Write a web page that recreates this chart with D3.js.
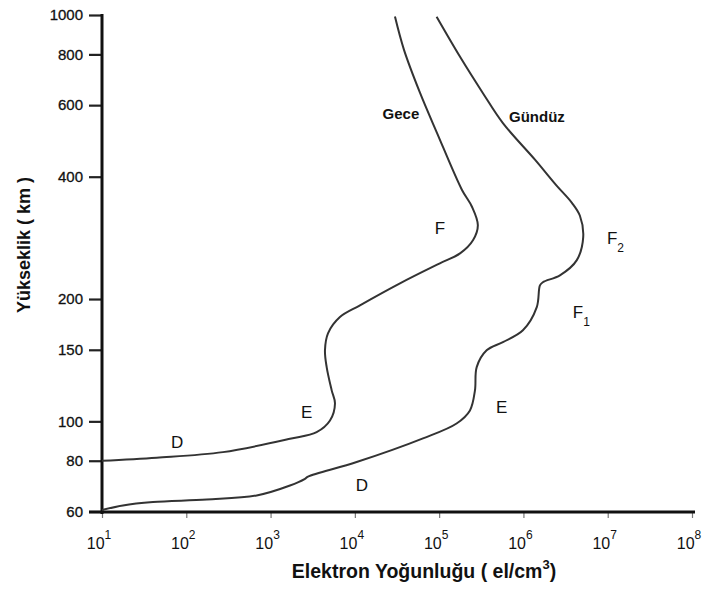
<!DOCTYPE html>
<html>
<head>
<meta charset="utf-8">
<script src="https://cdn.jsdelivr.net/npm/d3@7/dist/d3.min.js"></script>
<style>
  html, body { margin: 0; padding: 0; background: #fff; }
  svg { display: block; font-family: "Liberation Sans", Arial, sans-serif; }
</style>
</head>
<body>
<svg id="chart" width="707" height="590"></svg>
<script>
// Electron density profile of the ionosphere, night vs. day
const altTicks = [60, 80, 100, 150, 200, 400, 600, 800, 1000];
const densityExponents = [1, 2, 3, 4, 5, 6, 7, 8];

// Night (Gece) profile: electron density (el/cm^3) and altitude (km)
const nightDensity = [1.0e1, 4.46e1, 2.72e2, 1.70e3, 3.52e3, 5.07e3, 5.81e3, 5.31e3, 4.63e3, 4.42e3,
  4.80e3, 6.65e3, 1.15e4, 3.43e4, 1.02e5, 1.77e5, 2.52e5, 2.88e5, 2.45e5, 1.86e5,
  9.42e4, 5.92e4, 3.82e4, 2.99e4];
const nightAlt = [80, 81.4, 84, 90.6, 94.1, 100.5, 110.7, 119.2, 136, 149.6,
  164.7, 180.6, 193, 218.6, 244.9, 259, 279, 303.8, 337.4, 371.6,
  513, 644, 822, 991];

// Day (Gündüz) profile
const dayDensity = [1.0e1, 1.77e1, 4.03e1, 1.75e2, 6.84e2, 1.70e3, 2.56e3, 2.78e3, 1.05e4, 6.43e4,
  1.61e5, 2.32e5, 2.66e5, 2.79e5, 3.66e5, 5.71e5, 9.86e5, 1.44e6, 1.57e6, 1.70e6,
  2.71e6, 4.28e6, 5.12e6, 4.68e6, 3.76e6, 2.43e6, 1.37e6, 5.71e5, 3.31e5, 1.77e5, 9.33e4];
const dayAlt = [60.5, 62.1, 63.3, 64.2, 65.7, 69.5, 72.2, 73.1, 79.4, 90.8,
  98.8, 106.4, 119.2, 136, 149.6, 156.7, 167.5, 191, 216, 220,
  228.8, 249, 284, 320.6, 345, 382, 440.5, 541.8, 642, 789, 990];

// Layer annotations: text, subscript, density, altitude (baseline)
const layerLabels = [
  { t: "D", sub: "", n: 7.8e1, a: 86 },
  { t: "E", sub: "", n: 2.68e3, a: 102 },
  { t: "F", sub: "", n: 1.02e5, a: 289 },
  { t: "D", sub: "", n: 1.21e4, a: 67.4 },
  { t: "E", sub: "", n: 5.51e5, a: 104.9 },
  { t: "F", sub: "1", n: 3.86e6, a: 180 },
  { t: "F", sub: "2", n: 9.8e6, a: 273 }
];
const curveNames = [
  { t: "Gece", n: 3.52e4, a: 556 },
  { t: "Gündüz", n: 1.445e6, a: 546 }
];

const svg = d3.select("#chart");
const x = d3.scaleLog().domain([1e1, 1e8]).range([102, 692]);
const y = d3.scaleLog().domain([60, 1000]).range([511.5, 15]);

// Axes
const yAxis = d3.axisLeft(y).tickValues(altTicks).tickFormat(d3.format("d")).tickSize(13).tickPadding(6);
const gy = svg.append("g").attr("transform", "translate(102,0)").call(yAxis);
gy.select(".domain").remove();
gy.selectAll(".tick line").attr("stroke", "#222").attr("stroke-width", 2.2);
gy.selectAll(".tick text").attr("font-size", 15).attr("fill", "#111")
  .attr("stroke", "#111").attr("stroke-width", 0.3)
  .attr("font-family", "'Liberation Sans', Arial, sans-serif");

const xAxis = d3.axisBottom(x).tickValues(densityExponents.map(e => Math.pow(10, e)))
  .tickFormat("").tickSize(6);
const gx = svg.append("g").attr("transform", "translate(0,512)").call(xAxis);
gx.select(".domain").remove();
gx.selectAll(".tick line").attr("stroke", "#777").attr("stroke-width", 1.2);

// Power-of-ten tick labels
const xl = svg.append("g");
densityExponents.forEach(e => {
  const t = xl.append("text")
    .attr("x", x(Math.pow(10, e)) - 3).attr("y", 549)
    .attr("text-anchor", "middle").attr("font-size", 16).attr("fill", "#111");
  t.append("tspan").text("10");
  t.append("tspan").attr("dy", -10).attr("font-size", 12).text(e);
});

// Axis lines
svg.append("line").attr("x1", 102).attr("x2", 102).attr("y1", 14).attr("y2", 514)
  .attr("stroke", "#111").attr("stroke-width", 3);
svg.append("line").attr("x1", 89).attr("x2", 695).attr("y1", 512).attr("y2", 512)
  .attr("stroke", "#111").attr("stroke-width", 3);

// Axis titles
svg.append("text").attr("transform", "translate(30,245) rotate(-90)")
  .attr("text-anchor", "middle").attr("font-size", 18).attr("font-weight", "bold").attr("fill", "#111")
  .text("Yükseklik ( km )");
const xt = svg.append("text").attr("x", 424).attr("y", 578)
  .attr("text-anchor", "middle").attr("font-size", 19.5).attr("font-weight", "bold").attr("fill", "#111");
xt.append("tspan").text("Elektron Yoğunluğu ( el/cm");
xt.append("tspan").attr("dy", -9).attr("font-size", 13).text("3");
xt.append("tspan").attr("dy", 9).text(")");

// Profile curves
const line = d3.line().x(d => x(d[0])).y(d => y(d[1])).curve(d3.curveCatmullRom.alpha(0.5));
[[nightDensity, nightAlt], [dayDensity, dayAlt]].forEach(([n, a]) => {
  svg.append("path").datum(d3.zip(n, a)).attr("d", line)
    .attr("fill", "none").attr("stroke", "#333").attr("stroke-width", 2);
});

// Layer letters
layerLabels.forEach(l => {
  const t = svg.append("text").attr("x", x(l.n)).attr("y", y(l.a))
    .attr("text-anchor", l.sub ? "start" : "middle").attr("font-size", 17).attr("fill", "#111");
  t.append("tspan").text(l.t);
  if (l.sub) t.append("tspan").attr("dy", 8).attr("font-size", 12).text(l.sub);
});

// Curve names
curveNames.forEach(c => {
  svg.append("text").attr("x", x(c.n)).attr("y", y(c.a))
    .attr("text-anchor", "middle").attr("font-size", 15).attr("font-weight", "bold").attr("fill", "#111")
    .text(c.t);
});
</script>
</body>
</html>
